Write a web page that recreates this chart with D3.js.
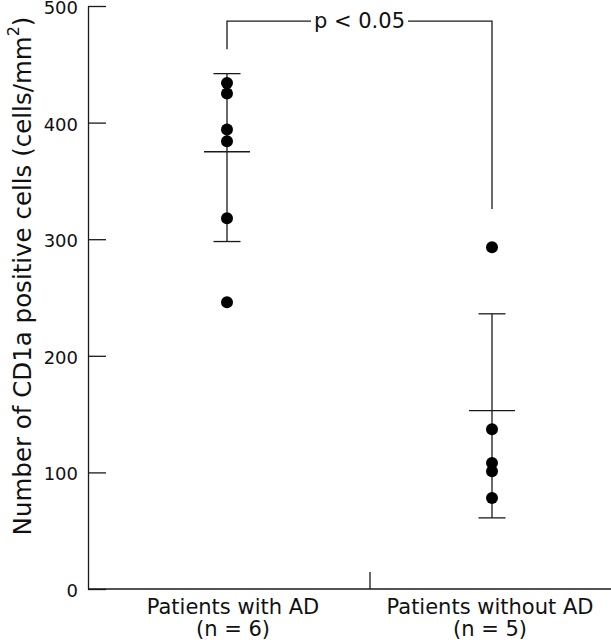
<!DOCTYPE html>
<html>
<head>
<meta charset="utf-8">
<script src="https://cdn.jsdelivr.net/npm/d3@7"></script>
<style>
  html, body { margin: 0; padding: 0; background: #fff; }
  svg { display: block; }
  text { font-family: "DejaVu Sans", "Liberation Sans", Arial, sans-serif; fill: #111; }
</style>
</head>
<body>
<svg id="chart" width="611" height="640"></svg>
<script>
// ---- data ----
const categories = ["Patients with AD", "Patients without AD"];
const nLabels = ["(n = 6)", "(n = 5)"];
const withAD = [434, 425, 394, 384, 318, 246];
const withoutAD = [293, 137, 108, 101, 78];
const means = [375, 153];
const upperBars = [442, 236];
const lowerBars = [298, 61];
const yTicks = [0, 100, 200, 300, 400, 500];
const yTitle = "Number of CD1a positive cells (cells/mm";
const yTitleSup = "2";
const pLabel = "p < 0.05";
const bracketTop = 487;
const bracketEnds = [463, 326];

const svg = d3.select("#chart");
const W = 611, H = 640;
const axisX = 88, axisBottomY = 589, axisTopY = 6;
const ink = "#1a1a1a";

const y = d3.scaleLinear().domain([0, 500]).range([axisBottomY, axisTopY]);
const xPoint = d3.scalePoint().domain(categories).range([227, 492]);
const xLabel = d3.scalePoint().domain(categories).range([233, 490]);
const xBand = d3.scaleBand().domain(categories).range([axisX, 652]);

// y axis with inward ticks
const yAxis = d3.axisLeft(y).tickValues(yTicks).tickSizeInner(-18).tickSizeOuter(0).tickPadding(10);
const gy = svg.append("g").attr("transform", `translate(${axisX},0)`).call(yAxis);
gy.select(".domain").attr("stroke", ink).attr("stroke-width", 1.3);
gy.selectAll(".tick line").attr("stroke", ink).attr("stroke-width", 1.3);
gy.selectAll(".tick text").attr("font-size", 18).attr("font-family", "DejaVu Sans, sans-serif")
  .attr("fill", "#111").attr("dy", "0.42em");

// x axis line and divider tick
svg.append("line").attr("x1", axisX).attr("x2", W).attr("y1", axisBottomY).attr("y2", axisBottomY)
  .attr("stroke", ink).attr("stroke-width", 1.3);
svg.append("line").attr("x1", xBand(categories[1])).attr("x2", xBand(categories[1]))
  .attr("y1", axisBottomY).attr("y2", axisBottomY - 17)
  .attr("stroke", ink).attr("stroke-width", 1.3);

// category labels
categories.forEach((c, i) => {
  svg.append("text").attr("text-anchor", "middle").attr("font-size", 21)
    .attr("x", xLabel(c)).attr("y", 614).text(c);
  svg.append("text").attr("text-anchor", "middle").attr("font-size", 21)
    .attr("x", xLabel(c)).attr("y", 636).text(nLabels[i]);
});

// y title
const title = svg.append("text").attr("text-anchor", "middle").attr("font-size", 24.5)
  .attr("transform", `translate(31,276) rotate(-90)`);
title.append("tspan").text(yTitle);
title.append("tspan").attr("font-size", 16).attr("dy", "-0.75em").text(yTitleSup);
title.append("tspan").attr("dy", "0.5em").text(")");

// error bars and points
const groups = [withAD, withoutAD];
categories.forEach((c, i) => {
  const cx = xPoint(c);
  const g = svg.append("g").attr("stroke", ink).attr("stroke-width", 1.3);
  g.append("line").attr("x1", cx).attr("x2", cx).attr("y1", y(upperBars[i])).attr("y2", y(lowerBars[i]));
  g.append("line").attr("x1", cx - 13.5).attr("x2", cx + 13.5).attr("y1", y(upperBars[i])).attr("y2", y(upperBars[i]));
  g.append("line").attr("x1", cx - 13.5).attr("x2", cx + 13.5).attr("y1", y(lowerBars[i])).attr("y2", y(lowerBars[i]));
  g.append("line").attr("x1", cx - 23).attr("x2", cx + 23).attr("y1", y(means[i])).attr("y2", y(means[i]));
  svg.append("g").selectAll("circle").data(groups[i]).join("circle")
    .attr("cx", cx).attr("cy", d => y(d)).attr("r", 6).attr("fill", "#000");
});

// significance bracket
const x1 = xPoint(categories[0]), x2 = xPoint(categories[1]);
svg.append("path")
  .attr("d", `M${x1},${y(bracketTop)}V${y(bracketTop)}H${x2}`)
  .attr("fill", "none");
svg.append("path")
  .attr("d", `M${x1},${y(bracketEnds[0])}V${y(bracketTop)}H${x2}V${y(bracketEnds[1])}`)
  .attr("fill", "none").attr("stroke", ink).attr("stroke-width", 1.3);
const bg = svg.append("rect").attr("fill", "#fff");
const pt = svg.append("text").attr("text-anchor", "middle").attr("font-size", 21)
  .attr("x", (x1 + x2) / 2).attr("y", y(bracketTop) + 7).text(pLabel);
const bb = pt.node().getBBox();
bg.attr("x", bb.x - 3).attr("y", bb.y + 2).attr("width", bb.width + 6).attr("height", bb.height - 4);
</script>
</body>
</html>
